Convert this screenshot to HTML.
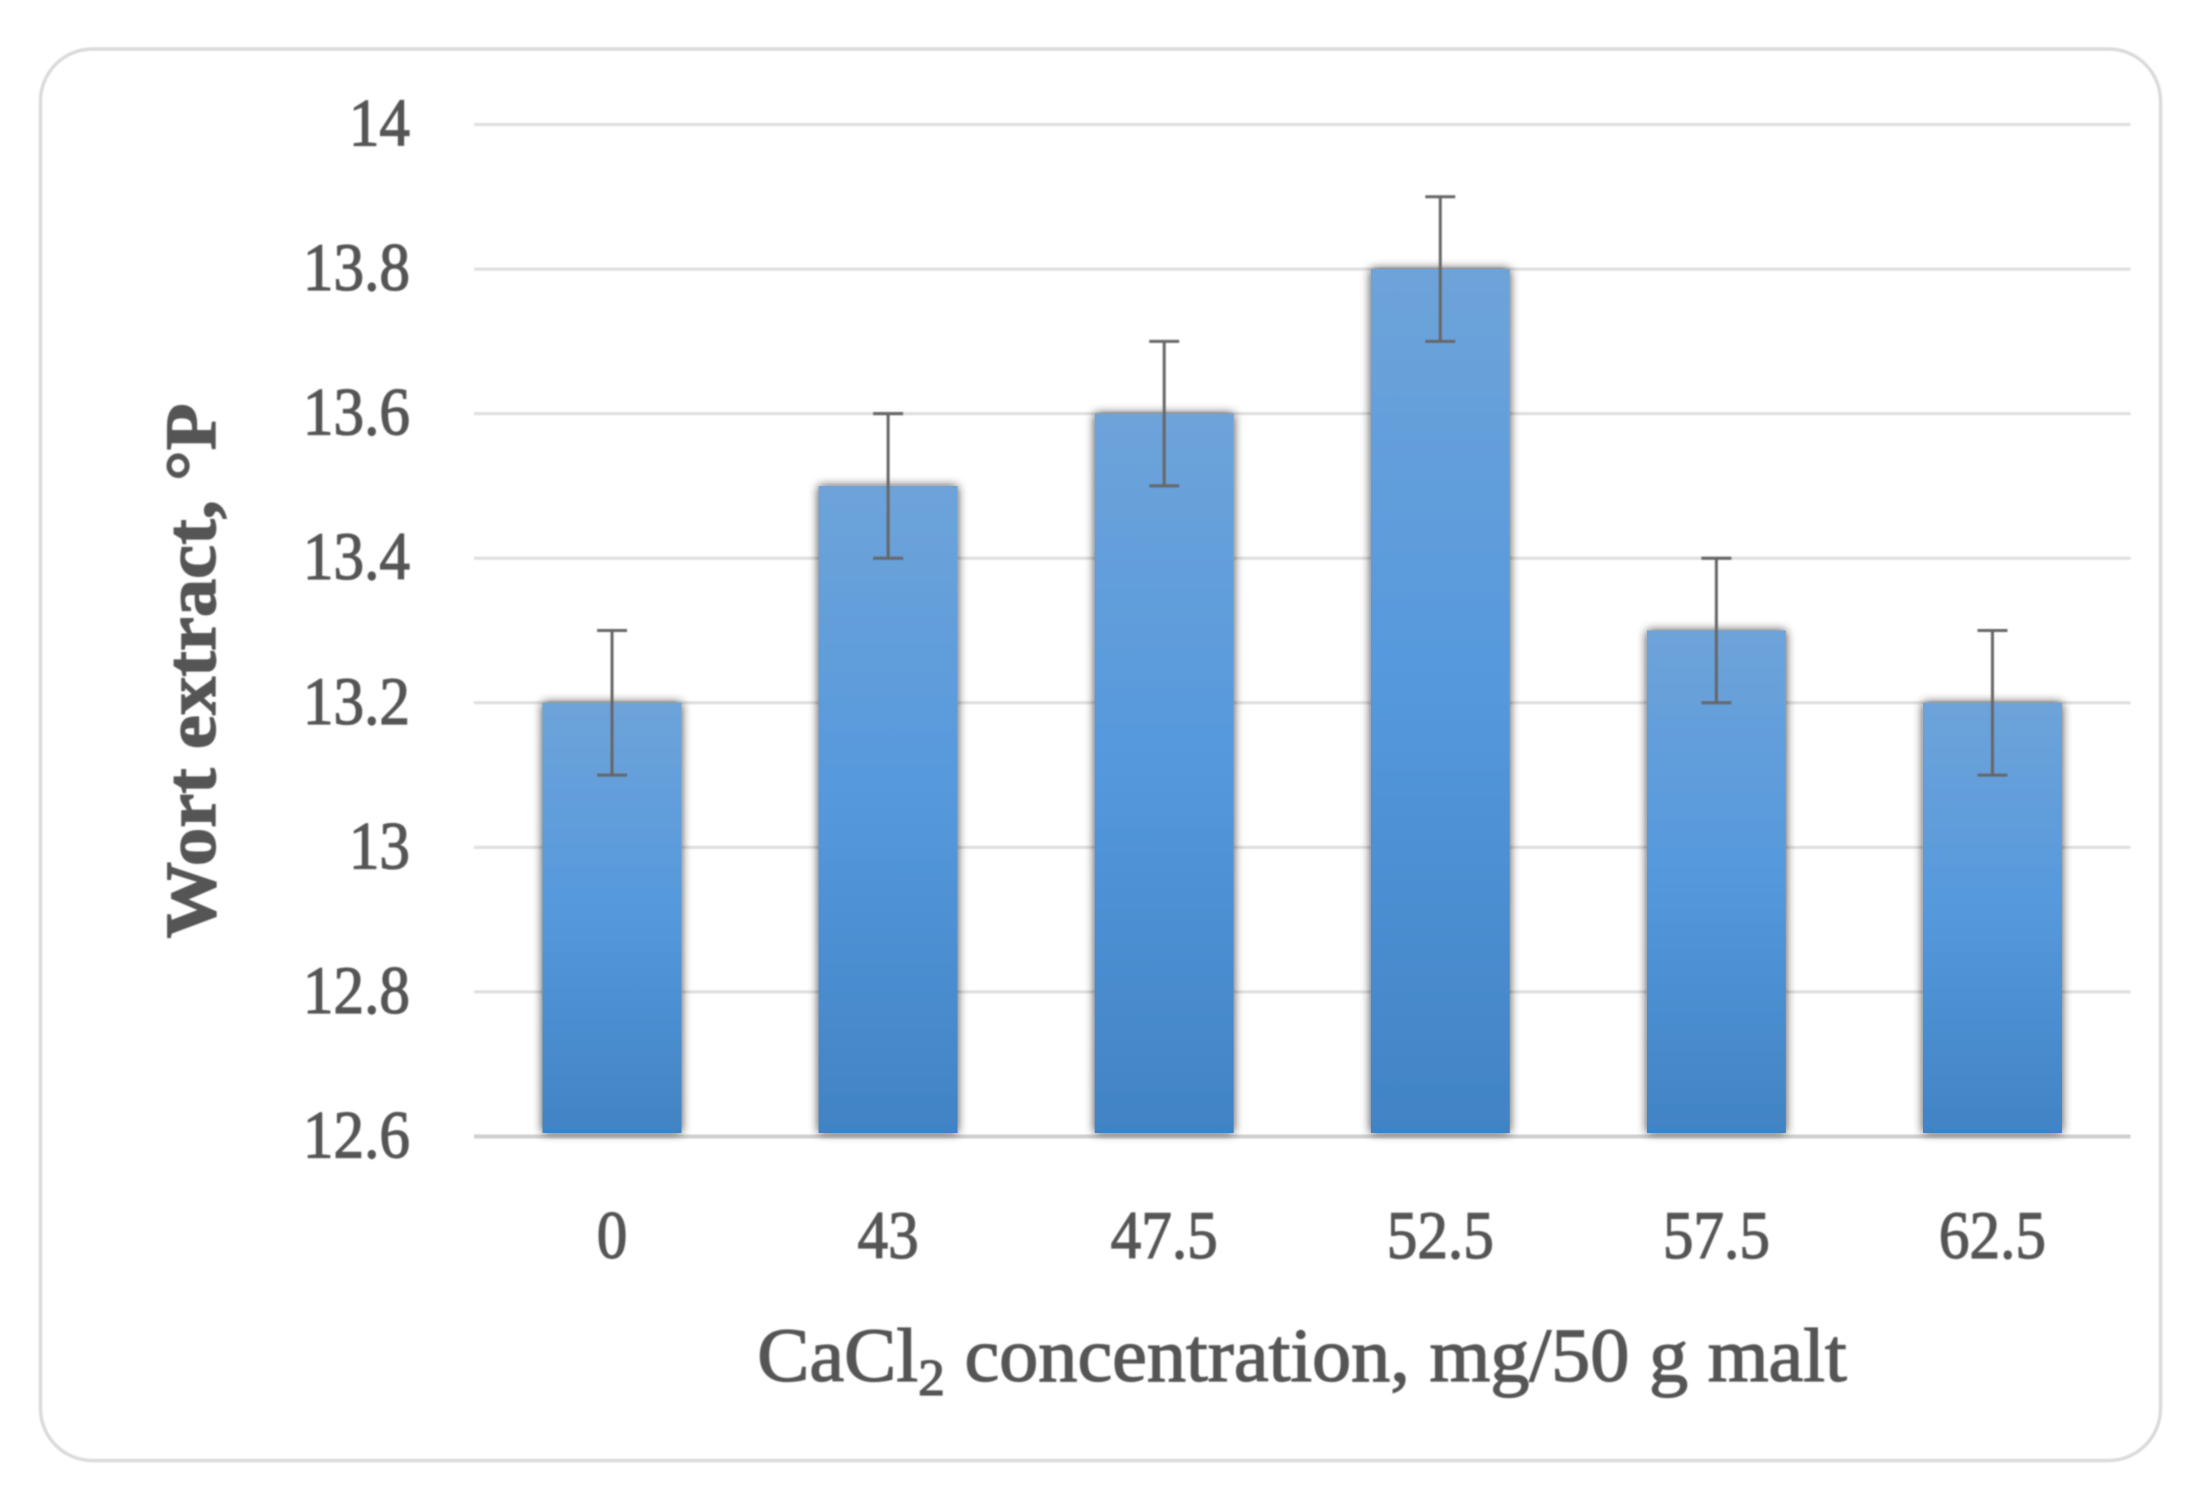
<!DOCTYPE html>
<html lang="en">
<head>
<meta charset="utf-8">
<title>Wort extract vs CaCl2 concentration</title>
<style>
  html, body { margin: 0; padding: 0; background: #fff; }
  svg { display: block; }
  text { font-family: "Liberation Serif", serif; fill: #555; stroke: #555; stroke-width: 1.3px; }
</style>
</head>
<body>
<svg id="chart" xmlns="http://www.w3.org/2000/svg" width="2199" height="1501" viewBox="0 0 2199 1501">
  <defs>
    <linearGradient id="barFill" x1="0" y1="0" x2="0" y2="1">
      <stop offset="0" stop-color="#6ea3da"/>
      <stop offset="0.5" stop-color="#5498dc"/>
      <stop offset="1" stop-color="#4183c4"/>
    </linearGradient>
    <filter id="soft" x="-5%" y="-5%" width="110%" height="110%"><feGaussianBlur stdDeviation="0.9"/></filter>
    <filter id="barShadow" x="-20%" y="-5%" width="140%" height="110%">
      <feGaussianBlur in="SourceAlpha" stdDeviation="5"/>
      <feComponentTransfer><feFuncA type="linear" slope="0.75"/></feComponentTransfer>
      <feMerge><feMergeNode/><feMergeNode in="SourceGraphic"/></feMerge>
    </filter>
  </defs>
  <rect x="0" y="0" width="2199" height="1501" fill="#fff"/>
  <rect x="40.5" y="49" width="2120" height="1411.5" rx="52" ry="52" fill="#fff" stroke="#dadada" stroke-width="3.5" filter="url(#soft)"/>
  <g id="grid" filter="url(#soft)"></g>
  <g id="bars"></g>
  <g id="errors" filter="url(#soft)"></g>
  <g id="labels" filter="url(#soft)">
    <text transform="translate(215,671) rotate(-90) scale(1.065,1)" text-anchor="middle" font-size="72" font-weight="bold">Wort extract, °P</text>
    <text transform="translate(1302,1381) scale(1.03,1)" text-anchor="middle" font-size="76">CaCl<tspan font-size="52" dy="14">2</tspan><tspan dy="-14"> concentration, mg/50 g malt</tspan></text>
  </g>
</svg>
<script>
const categories = ["0", "43", "47.5", "52.5", "57.5", "62.5"];
const wortExtract = [13.2, 13.5, 13.6, 13.8, 13.3, 13.2];
const errorAmount = [0.1, 0.1, 0.1, 0.1, 0.1, 0.1];
const yTicks = [14, 13.8, 13.6, 13.4, 13.2, 13, 12.8, 12.6];
const yTickLabels = ["14", "13.8", "13.6", "13.4", "13.2", "13", "12.8", "12.6"];

const NS = "http://www.w3.org/2000/svg";
const plot = { left: 474, right: 2130.5, barWidth: 139, capHalf: 15, yMin: 12.6, yMinPx: 1136.5, yMax: 14, yMaxPx: 124.5, barGap: 3.5 };

function yScale(v) {
  return plot.yMinPx + (v - plot.yMin) * (plot.yMaxPx - plot.yMinPx) / (plot.yMax - plot.yMin);
}
function xCenter(i) {
  return plot.left + (plot.right - plot.left) * (i + 0.5) / categories.length;
}
function make(tag, parent, attrs) {
  const el = document.createElementNS(NS, tag);
  for (const k in attrs) el.setAttribute(k, attrs[k]);
  parent.appendChild(el);
  return el;
}

const gridG = document.getElementById("grid");
const barsG = document.getElementById("bars");
const errG = document.getElementById("errors");
const labelG = document.getElementById("labels");

yTicks.forEach(function (t, i) {
  const isBase = t === plot.yMin;
  const line = make("line", gridG, { x1: plot.left, x2: plot.right, y1: yScale(t), y2: yScale(t), stroke: isBase ? "#cfcfcf" : "#dedede", "stroke-width": isBase ? 4 : 3 });
  
  
  const label = make("text", labelG, { transform: "translate(410," + (yScale(t) + 21) + ") scale(0.9,1)", "text-anchor": "end", "font-size": 68 });
  label.textContent = yTickLabels[i];
  
  
});

categories.forEach(function (c, i) {
  const cx = xCenter(i);
  const top = yScale(wortExtract[i]);
  const bar = make("rect", barsG, { x: cx - plot.barWidth / 2, y: top, width: plot.barWidth, height: yScale(plot.yMin) - plot.barGap - top, fill: "url(#barFill)", filter: "url(#barShadow)" });
  
  

  const hi = yScale(wortExtract[i] + errorAmount[i]);
  const lo = yScale(wortExtract[i] - errorAmount[i]);
  const stem = make("line", errG, { x1: cx, x2: cx, y1: hi, y2: lo, stroke: "#666", "stroke-width": 3 });
  
  
  const capTop = make("line", errG, { x1: cx - plot.capHalf, x2: cx + plot.capHalf, y1: hi, y2: hi, stroke: "#666", "stroke-width": 3 });
  
  
  const capBottom = make("line", errG, { x1: cx - plot.capHalf, x2: cx + plot.capHalf, y1: lo, y2: lo, stroke: "#666", "stroke-width": 3 });
  
  

  const tick = make("text", labelG, { transform: "translate(" + cx + ",1258) scale(0.9,1)", "text-anchor": "middle", "font-size": 68 });
  tick.textContent = c;
  
  
});
</script>
</body>
</html>
